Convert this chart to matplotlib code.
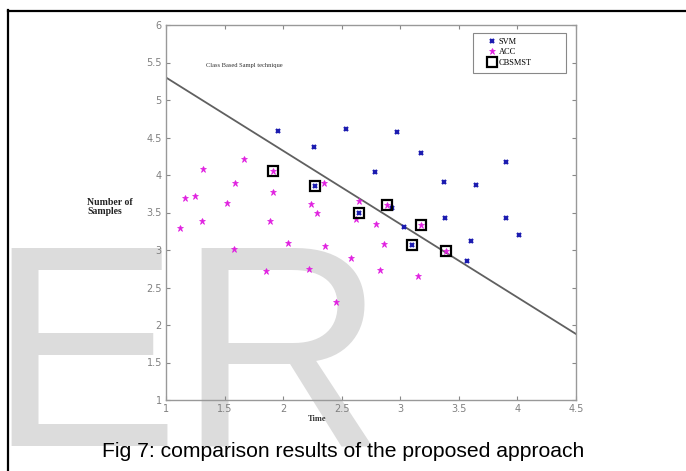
import matplotlib
matplotlib.use("Agg")
import matplotlib.pyplot as plt
from matplotlib.lines import Line2D
from matplotlib.patches import Rectangle
from matplotlib.transforms import Bbox, TransformedBbox

# SVM points (blue)
svm_x = [1.96, 2.26, 2.54, 2.97, 2.78, 3.18, 3.37, 3.65, 3.90, 3.38, 3.90, 3.03,
         4.01, 3.60, 3.57, 2.93, 2.27, 2.65, 3.10]
svm_y = [4.59, 4.37, 4.62, 4.57, 4.04, 4.29, 3.91, 3.87, 4.17, 3.43, 3.43, 3.31,
         3.20, 3.12, 2.85, 3.56, 3.86, 3.50, 3.07]

# ACC points (magenta)
acc_x = [1.12, 1.16, 1.25, 1.32, 1.31, 1.52, 1.59, 1.67, 1.91, 1.89, 2.24, 2.29,
         2.35, 2.65, 2.62, 2.79, 1.58, 2.04, 1.85, 2.22, 2.36, 2.45, 2.58, 2.86,
         2.83, 3.15, 1.91, 2.89, 3.18, 3.39]
acc_y = [3.29, 3.70, 3.72, 4.08, 3.39, 3.63, 3.90, 4.21, 3.77, 3.39, 3.62, 3.49,
         3.90, 3.66, 3.41, 3.35, 3.02, 3.10, 2.72, 2.75, 3.05, 2.31, 2.90, 3.08,
         2.74, 2.66, 4.05, 3.60, 3.33, 2.99]

# CBSMST selected samples
cb_x = [1.91, 2.27, 2.65, 2.89, 3.18, 3.10, 3.39]
cb_y = [4.05, 3.86, 3.50, 3.60, 3.33, 3.07, 2.99]

# separating line
line_x = [1.0, 4.5]
line_y = [5.30, 1.88]

W, H = 686, 471
fig = plt.figure(figsize=(W / 100, H / 100), dpi=100)

# watermark letters behind everything
wm = dict(fontsize=207, color="#dcdcdc", family="Liberation Sans",
          va="baseline", ha="left", zorder=0)
fig.text(-13 / W, (H - 446) / H, "E", **wm)
fig.text(177 / W, (H - 446) / H, "R", **wm)

# page frame (top and left edges)
fig.add_artist(Line2D([8 / W, 1.0], [(H - 10.5) / H] * 2, color="black", lw=1.6,
                      transform=fig.transFigure))
fig.add_artist(Line2D([8 / W] * 2, [0, (H - 10) / H], color="black", lw=1.6,
                      transform=fig.transFigure))

ax = fig.add_axes([166 / W, (H - 400) / H, 410 / W, 375 / H])
ax.set_facecolor("none")
ax.set_zorder(2)

ax.plot(line_x, line_y, color="#606060", lw=1.3, zorder=2)
ax.plot(svm_x, svm_y, "x", color="#1c1cb0", ms=3.2, mew=1.6, label="SVM", zorder=3)
ax.plot(acc_x, acc_y, "*", color="#e020e0", ms=5, mew=0.5, label="ACC", zorder=3)
ax.plot(cb_x, cb_y, "s", mfc="none", mec="black", ms=6.5, mew=1.6, label="CBSMST", zorder=4)

ax.set_xlim(1, 4.5)
ax.set_ylim(1, 6)
ax.set_xticks([1, 1.5, 2, 2.5, 3, 3.5, 4, 4.5])
ax.set_yticks([1, 1.5, 2, 2.5, 3, 3.5, 4, 4.5, 5, 5.5, 6])
ax.set_xticklabels(["1", "1.5", "2", "2.5", "3", "3.5", "4", "4.5"])
ax.set_yticklabels(["1", "1.5", "2", "2.5", "3", "3.5", "4", "4.5", "5", "5.5", "6"])
ax.tick_params(direction="in", length=3, width=0.8, colors="#888888",
               labelsize=7, labelcolor="#808080", top=True, right=True, pad=3)
for s in ax.spines.values():
    s.set_color("#999999")
    s.set_linewidth(1.0)

ax.text(1.34, 5.46, "Class Based Sampl technique", fontsize=4.7,
        family="Liberation Serif", color="#333333", va="center")

# legend box drawn separately to match the wide frame
ax.add_patch(Rectangle((0.749, 0.872), 0.2266, 0.1067, transform=ax.transAxes,
                       fc="white", ec="#888888", lw=0.8, zorder=5))
leg = ax.legend(loc="upper left", bbox_to_anchor=(0.777, 0.975), borderaxespad=0,
                frameon=False, prop={"family": "Liberation Serif", "size": 6},
                handlelength=1.0, handletextpad=0.3, labelspacing=0.3,
                borderpad=0.4)
leg.set_zorder(6)

fig.text(87 / W, (H - 207) / H, "Number of\nSamples", fontsize=7, fontweight="bold",
         family="Liberation Serif", color="#222222", va="center", ha="left",
         linespacing=1.1)

t = fig.text(317 / W, (H - 415) / H, "Time", fontsize=6, fontweight="bold",
             family="Liberation Serif", color="#333333", va="top", ha="center")
t.set_clip_box(TransformedBbox(Bbox([[0, (H - 422) / H], [1, 1]]), fig.transFigure))
t.set_clip_on(True)

fig.text(102 / W, (H - 457) / H, "Fig 7: comparison results of the proposed approach",
         fontsize=15.2, family="Liberation Sans", color="black", va="baseline", ha="left")

fig.savefig("out.png", dpi=100)
